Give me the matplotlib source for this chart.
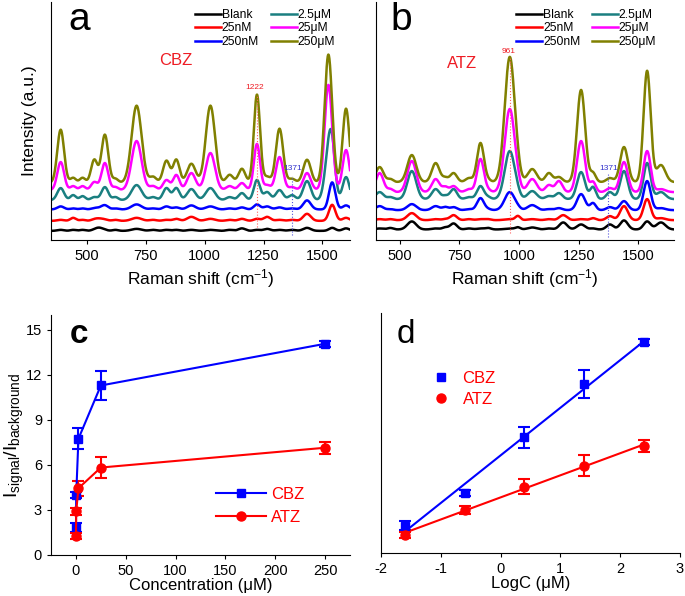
import numpy as np
import matplotlib
matplotlib.use("Agg")
import matplotlib.pyplot as plt
from matplotlib.lines import Line2D

plt.rcParams['font.family'] = ['Liberation Sans', 'DejaVu Sans']
plt.rcParams['mathtext.fontset'] = 'custom'
plt.rcParams['mathtext.rm'] = 'Liberation Sans'
plt.rcParams['mathtext.it'] = 'Liberation Sans:italic'
plt.rcParams['axes.unicode_minus'] = False

# ---------------- data ----------------
series_labels = ['Blank', '25nM', '250nM', '2.5μM', '25μM', '250μM']
series_colors = ['#000000', '#ff0000', '#0000ff', '#1a7f80', '#ff00ff', '#808000']

# panel a (CBZ) Raman peaks: position, FWHM, amplitude per series
a_pos = [387, 440, 480, 530, 550, 575, 620, 710, 780, 837, 879, 943, 1024, 1106, 1158, 1222, 1265, 1318, 1371, 1435, 1526, 1542, 1601]
a_fwhm = [34, 28, 28, 32, 40, 34, 28, 50, 34, 34, 32, 42, 46, 34, 34, 31, 34, 36, 34, 38, 38, 32, 34]
a_baseline = [9.3, 19.3, 30.7, 40, 50, 57.3]
a_blank = [1, 1, 1, 0.5, 3, 0.5, 1, 2, 1, 1, 1, 1, 1, 1, 2.5, 1, 2, 1, 1, 3, 0, 3, 2.5]
a_25nM = [1, 3, 1, 1, 2, 1, 1, 3, 1, 1, 2, 4, 2, 1, 2, 2, 4, 1, 1, 7, 0, 16, 3]
a_250nM = [3, 1, 1, 1, 1, 4, 1, 5, 1, 3, 2, 4, 3, 1, 2, 5, 3, 2, 1, 9, 0, 27, 4]
a_2p5uM = [12, 5, 4, 3, 0, 13, 3, 15, 3, 12, 12, 11, 12, 3, 7, 20, 8, 10, 5, 19, 42, 40, 23]
a_25uM = [28, 4, 4, 8, 0, 27, 3, 49, 4, 10, 15, 17, 37, 4, 7, 46, 5, 33, 3, 17, 105, 0, 40]
a_250uM = [53, 5, 5, 23, 0, 48, 4, 77, 6, 22, 23, 19, 77, 8, 14, 88, 6, 54, 4, 23, 128, 0, 74]

# panel b (ATZ)
b_pos = [415, 460, 550, 650, 690, 725, 790, 838, 870, 961, 995, 1055, 1125, 1167, 1185, 1260, 1310, 1381, 1440, 1537, 1595]
b_fwhm = [38, 28, 44, 38, 28, 34, 34, 34, 28, 50, 24, 44, 34, 34, 38, 40, 28, 34, 38, 35, 44]
b_baseline = [10.7, 20, 30, 41, 48, 58]
b_blank = [1, 1.5, 8, 1, 2, 6, 1, 1, 1.5, 1, 2, 2, 1, 0, 7, 5, 1, 5, 9, 8, 7]
b_25nM = [1, 1, 7, 1, 1, 5, 1, 1, 1, 1, 4, 1, 1, 0, 5, 1, 2, 4, 14, 21, 2]
b_250nM = [4, 1, 6, 4, 3, 3, 1, 12, 1, 18, 1, 5, 1, 2, 0, 16, 7, 3, 9, 29, 2]
b_2p5uM = [7, 2, 28, 10, 3, 10, 2, 13, 2, 48, 2, 8, 3, 6, 0, 27, 12, 7, 28, 36, 7]
b_25uM = [19, 3, 31, 13, 5, 6, 3, 33, 2, 83, 3, 13, 7, 11, 0, 51, 10, 4, 30, 41, 3]
b_250uM = [15, 3, 27, 19, 4, 9, 4, 39, 2, 125, 3, 13, 9, 5, 0, 92, 9, 4, 35, 111, 17]

# panels c, d
conc = [0.025, 0.25, 2.5, 25, 250]
logc = [-1.6, -0.6, 0.4, 1.4, 2.4]
cbz = [1.85, 4.0, 7.75, 11.3, 14.08]
cbz_err = [0.3, 0.2, 0.7, 0.95, 0.2]
atz = [1.25, 2.9, 4.45, 5.83, 7.15]
atz_err = [0.2, 0.25, 0.5, 0.7, 0.4]

# ---------------- figure ----------------
fig = plt.figure(figsize=(6.85, 5.96), dpi=100)
axa = fig.add_axes([0.0745, 0.597, 0.4365, 0.4])
axb = fig.add_axes([0.549, 0.597, 0.435, 0.4])
axc = fig.add_axes([0.0745, 0.0688, 0.4365, 0.4027])
axd = fig.add_axes([0.556, 0.0716, 0.4367, 0.4027])


def spectrum(x, pos, fwhm, amps, base):
    y = np.full_like(x, base, dtype=float)
    for p, w, a in zip(pos, fwhm, amps):
        s = w / 2.3548
        y += a * np.exp(-0.5 * ((x - p) / s) ** 2)
    return y


def style_top(ax, xlim):
    for sp in ['top', 'right']:
        ax.spines[sp].set_visible(False)
    ax.set_xlim(*xlim)
    ax.set_ylim(0, 238)
    ax.set_yticks([])
    ax.set_xticks([500, 750, 1000, 1250, 1500])
    ax.tick_params(axis='x', direction='out', length=3, labelsize=10.5, pad=3)
    ax.set_xlabel('Raman shift (cm$^{-1}$)', fontsize=12.5, labelpad=3)


# panel a
xa = np.linspace(346, 1618, 2000)
a_sets = [a_blank, a_25nM, a_250nM, a_2p5uM, a_25uM, a_250uM]
for amps, base, col, lab in zip(a_sets, a_baseline, series_colors, series_labels):
    axa.plot(xa, spectrum(xa, a_pos, a_fwhm, amps, base), color=col, lw=1.8, label=lab)
style_top(axa, (346, 1618))
axa.set_ylabel('Intensity (a.u.)', fontsize=12.5, labelpad=10)
axa.text(0.057, 0.88, 'a', transform=axa.transAxes, fontsize=28)
axa.text(877, 179, 'CBZ', color='#ee1c24', fontsize=12, ha='center', va='center')
axa.text(1212, 152, '1222', color='#ee1c24', fontsize=6, ha='center', va='center')
axa.plot([1222, 1222], [13, 145], color='#ff6060', ls=':', lw=0.8)
axa.text(1373, 72, '1371', color='#3333cc', fontsize=6, ha='center', va='center')
axa.plot([1371, 1371], [5, 64], color='#5555dd', ls=':', lw=0.8)
axa.legend(ncol=2, loc='upper right', bbox_to_anchor=(0.975, 1.0), frameon=False,
           fontsize=8.7, labelspacing=0.12, handlelength=2.1, handletextpad=0.1,
           columnspacing=1.0, borderpad=0.1)

# panel b
xb = np.linspace(400, 1650, 2000)
b_sets = [b_blank, b_25nM, b_250nM, b_2p5uM, b_25uM, b_250uM]
for amps, base, col, lab in zip(b_sets, b_baseline, series_colors, series_labels):
    axb.plot(xb, spectrum(xb, b_pos, b_fwhm, amps, base), color=col, lw=1.8, label=lab)
style_top(axb, (400, 1650))
axb.text(0.047, 0.88, 'b', transform=axb.transAxes, fontsize=28)
axb.text(759, 176, 'ATZ', color='#ee1c24', fontsize=12, ha='center', va='center')
axb.text(957, 188, '961', color='#ee1c24', fontsize=6, ha='center', va='center')
axb.plot([961, 961], [7, 182], color='#ff6060', ls=':', lw=0.8)
axb.text(1375, 72, '1371', color='#3333cc', fontsize=6, ha='center', va='center')
axb.plot([1371, 1371], [3, 66], color='#5555dd', ls=':', lw=0.8)
axb.legend(ncol=2, loc='upper right', bbox_to_anchor=(0.965, 1.0), frameon=False,
           fontsize=8.7, labelspacing=0.12, handlelength=2.1, handletextpad=0.1,
           columnspacing=1.0, borderpad=0.1)

# panel c
for sp in ['top', 'right']:
    axc.spines[sp].set_visible(False)
    axd.spines[sp].set_visible(False)
axc.errorbar(conc, cbz, yerr=cbz_err, fmt='s-', color='#0000ff', ms=6, lw=1.5,
             elinewidth=1.5, capsize=4, capthick=1.5, label='CBZ')
axc.errorbar(conc, atz, yerr=atz_err, fmt='o-', color='#ff0000', ms=6.5, lw=1.5,
             elinewidth=1.5, capsize=4, capthick=1.5, label='ATZ')
axc.set_xlim(-25, 275)
axc.set_ylim(0, 16)
axc.set_xticks([0, 50, 100, 150, 200, 250])
axc.set_yticks([0, 3, 6, 9, 12, 15])
axc.tick_params(direction='out', length=3, labelsize=10.5)
axc.set_xlabel('Concentration (μM)', fontsize=12, labelpad=0)
axc.set_ylabel(r'$\mathregular{I_{signal}/I_{background}}$', fontsize=14, labelpad=0)
axc.text(0.064, 0.882, 'c', transform=axc.transAxes, fontsize=24, fontweight='bold')
hc = [Line2D([], [], color='#0000ff', marker='s', ms=6, lw=1.5),
      Line2D([], [], color='#ff0000', marker='o', ms=6.5, lw=1.5)]
legc = axc.legend(hc, ['CBZ', 'ATZ'], loc='upper left', bbox_to_anchor=(0.525, 0.32),
                  frameon=False, fontsize=12, handlelength=3.0, handletextpad=0.3,
                  labelspacing=0.5, borderpad=0, numpoints=1)
for t in legc.get_texts():
    t.set_color('#ff0000')

# panel d
axd.errorbar(logc, cbz, yerr=cbz_err, fmt='s', color='#0000ff', ms=6,
             elinewidth=1.5, capsize=4, capthick=1.5)
axd.errorbar(logc, atz, yerr=atz_err, fmt='o', color='#ff0000', ms=6.5,
             elinewidth=1.5, capsize=4, capthick=1.5)
for yv, col in [(cbz, '#0000ff'), (atz, '#ff0000')]:
    k, b0 = np.polyfit(logc, yv, 1)
    xs = np.array([logc[0], logc[-1]])
    axd.plot(xs, k * xs + b0, color=col, lw=1.5)
axd.set_xlim(-2, 3)
axd.set_ylim(0, 16)
axd.set_yticks([])
axd.set_xticks([-2, -1, 0, 1, 2, 3])
axd.tick_params(direction='out', length=3, labelsize=10.5)
axd.set_xlabel('LogC (μM)', fontsize=12, labelpad=0)
axd.text(0.052, 0.875, 'd', transform=axd.transAxes, fontsize=24)
hd = [Line2D([], [], color='#0000ff', marker='s', ms=6, lw=0),
      Line2D([], [], color='#ff0000', marker='o', ms=6.5, lw=0)]
legd = axd.legend(hd, ['CBZ', 'ATZ'], loc='upper left', bbox_to_anchor=(0.145, 0.795),
                  frameon=False, fontsize=12, handlelength=1.0, handletextpad=0.8,
                  labelspacing=0.35, borderpad=0, numpoints=1)
for t in legd.get_texts():
    t.set_color('#ff0000')

fig.savefig('out.png', dpi=100)
